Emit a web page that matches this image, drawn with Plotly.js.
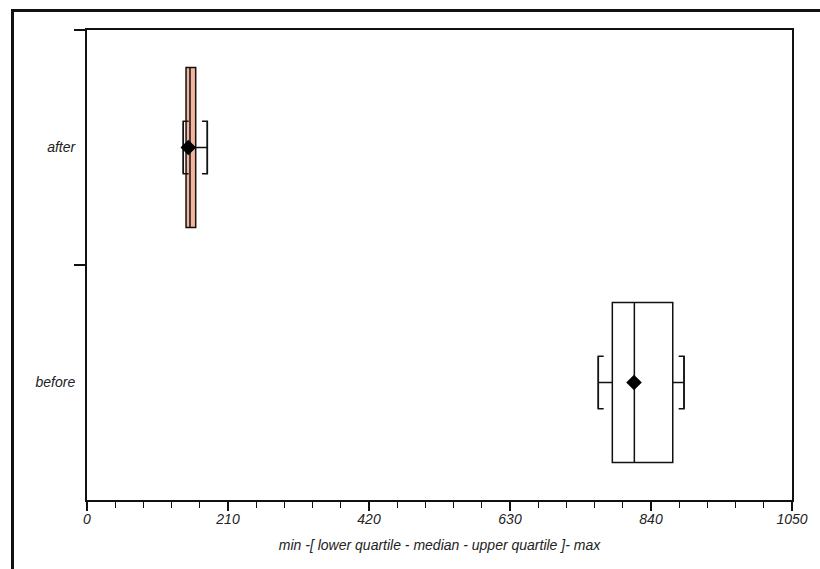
<!DOCTYPE html>
<html>
<head>
<meta charset="utf-8">
<script src="https://cdn.plot.ly/plotly-3.0.1.min.js"></script>
<style>
  html, body { margin: 0; padding: 0; background: #ffffff; }
  #frame { position: absolute; left: 11px; top: 9px; width: 840px; height: 600px;
           border-top: 3px solid #111; border-left: 3px solid #111; }
  #chart { position: absolute; left: 0; top: 0; width: 820px; height: 569px; }
</style>
</head>
<body>
<div id="frame"></div>
<div id="chart"></div>
<script>
// ---- data ----
const categories   = ['before', 'after'];
const minValues    = [761.5, 143.4];
const lowerQuartile= [782.4, 147.5];
const medianValues = [815.2, 153.4];
const upperQuartile= [872.4, 161.9];
const maxValues    = [889.2, 179.2];
const meanValues   = [814.7, 150.9];
const xTickValues  = [0, 210, 420, 630, 840, 1050];
const xTickLabels  = ['0', '210', '420', '630', '840', '1050'];
const boxFills     = ['#ffffff', '#f5b4a0'];

// ---- styling ----
const BOX_WIDTH = 0.68;
const WHISKER_FRAC = 0.33;
const SERIF = 8;
const ink = '#111111';
const positions = categories.map((c, i) => i);

const traces = [];
categories.forEach((c, i) => {
  traces.push({
    type: 'box', orientation: 'h', name: c,
    y: [positions[i]],
    q1: [lowerQuartile[i]], median: [medianValues[i]], q3: [upperQuartile[i]],
    lowerfence: [minValues[i]], upperfence: [maxValues[i]],
    width: BOX_WIDTH, whiskerwidth: WHISKER_FRAC,
    fillcolor: boxFills[i], line: { color: ink, width: 1.5 },
    boxpoints: false, showlegend: false, hoverinfo: 'skip'
  });
});

// bracket serifs at min / max
const h = BOX_WIDTH * WHISKER_FRAC / 2;
const sx = [], sy = [];
categories.forEach((c, i) => {
  const p = positions[i];
  sx.push(minValues[i] + SERIF, minValues[i], minValues[i], minValues[i] + SERIF, null);
  sy.push(p + h, p + h, p - h, p - h, null);
  sx.push(maxValues[i] - SERIF, maxValues[i], maxValues[i], maxValues[i] - SERIF, null);
  sy.push(p + h, p + h, p - h, p - h, null);
});
traces.push({
  type: 'scatter', mode: 'lines', x: sx, y: sy,
  line: { color: ink, width: 1.5 }, showlegend: false, hoverinfo: 'skip', connectgaps: false
});

// mean diamonds
traces.push({
  type: 'scatter', mode: 'markers', x: meanValues, y: positions,
  marker: { symbol: 'diamond', size: 12, color: '#000000' },
  showlegend: false, hoverinfo: 'skip'
});

const tickFont = { family: 'Liberation Sans, Arial, sans-serif', size: 14, color: '#222', style: 'italic' };

const layout = {
  width: 820, height: 569,
  margin: { l: 87, r: 28, t: 29.5, b: 68.5 },
  paper_bgcolor: 'rgba(0,0,0,0)', plot_bgcolor: 'rgba(0,0,0,0)',
  showlegend: false,
  boxmode: 'overlay',
  xaxis: {
    range: [0, 1050], autorange: false,
    tickmode: 'array', tickvals: xTickValues, ticktext: xTickLabels,
    ticks: 'outside', ticklen: 9, tickwidth: 1.5, tickcolor: ink,
    ticklabelstandoff: -4,
    minor: { dtick: 42, tick0: 0, ticks: 'outside', ticklen: 6, tickwidth: 1.2, tickcolor: ink, showgrid: false },
    showgrid: false, zeroline: false,
    showline: true, linecolor: ink, linewidth: 2, mirror: true,
    tickfont: tickFont,
    title: { text: 'min -[ lower quartile - median - upper quartile ]- max', font: tickFont, standoff: 14 },
    automargin: false
  },
  yaxis: {
    range: [-0.5, 1.5], autorange: false,
    tickmode: 'array', tickvals: positions, ticktext: categories,
    ticks: '', ticklabelstandoff: 7,
    minor: { tickmode: 'array', tickvals: [0.5, 1.5], ticks: 'outside', ticklen: 11, tickwidth: 1.5, tickcolor: ink, showgrid: false },
    showgrid: false, zeroline: false,
    showline: true, linecolor: ink, linewidth: 2, mirror: true,
    tickfont: tickFont,
    automargin: false
  }
};

Plotly.newPlot('chart', traces, layout, { displayModeBar: false, staticPlot: true });
</script>
</body>
</html>
